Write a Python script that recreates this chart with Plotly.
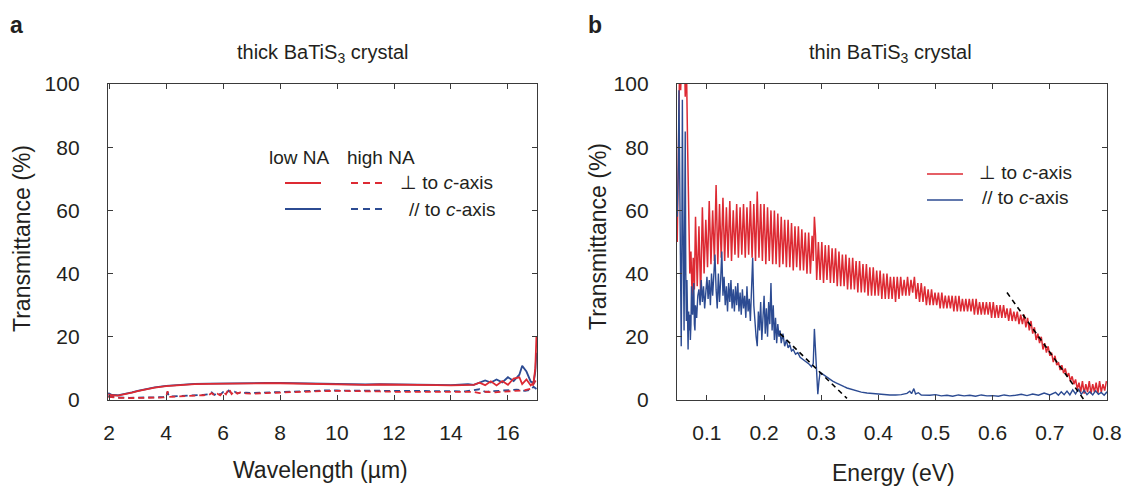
import plotly.graph_objects as go

W, H = 1128, 487

# ---------------- Panel a: thick crystal (wavelength, um) ----------------
wl_low = [1.97, 2.1, 2.3, 2.5, 2.8, 3.0, 3.3, 3.6, 4.0, 4.5,
          5.0, 5.5, 6.0, 6.5, 7.0, 7.5, 8.0, 8.5, 9.0, 9.5,
          10.0, 10.5, 11.0, 11.5, 12.0, 12.5, 13.0, 13.5, 14.0, 14.3,
          14.6, 14.8, 15.0, 15.2, 15.4, 15.6, 15.8, 16.0, 16.2, 16.4,
          16.5, 16.65, 16.8, 16.9, 16.96, 17.0]
low_perp = [1.8, 1.5, 1.4, 1.7, 2.3, 2.8, 3.4, 3.9, 4.4, 4.8,
            5.0, 5.1, 5.2, 5.2, 5.3, 5.3, 5.3, 5.2, 5.1, 5.0,
            4.9, 4.8, 4.8, 4.9, 4.9, 4.9, 4.8, 4.7, 4.6, 4.6,
            4.7, 4.8, 5.5, 4.7, 5.9, 4.6, 6.0, 4.8, 6.8, 7.2,
            5.0, 6.5, 4.6, 5.5, 10.0, 20.0]
low_par = [2.2, 1.6, 1.5, 1.8, 2.4, 2.9, 3.5, 4.0, 4.5, 4.9,
           5.1, 5.2, 5.3, 5.3, 5.3, 5.4, 5.4, 5.3, 5.2, 5.0,
           4.9, 4.8, 4.9, 5.0, 5.0, 4.9, 4.9, 4.8, 4.7, 4.9,
           5.0, 4.8, 5.6, 6.2, 5.5, 6.5, 5.6, 7.2, 6.0, 8.0,
           10.8, 9.0, 5.8, 5.5, 9.0, 15.0]

wl_high = [1.97, 2.3, 2.7, 3.0, 3.5, 3.9, 4.0, 4.05, 4.1, 4.5,
           5.0, 5.3, 5.5, 5.6, 5.7, 5.8, 5.9, 6.0, 6.1, 6.2,
           6.3, 6.4, 6.5, 6.6, 6.8, 7.0, 7.5, 8.0, 8.5, 9.0,
           9.5, 10.0, 10.5, 11.0, 11.5, 12.0, 12.5, 13.0, 13.5, 14.0,
           14.5, 14.8, 15.0, 15.2, 15.5, 16.0, 16.3, 16.6, 16.8, 16.9,
           17.0]
high_perp = [1.0, 0.7, 0.6, 0.6, 0.7, 0.8, 1.0, 2.8, 1.0, 1.1,
             1.3, 1.5, 1.6, 2.2, 1.4, 2.0, 1.5, 2.6, 1.8, 3.6,
             1.9, 2.8, 2.0, 2.4, 2.1, 2.0, 2.2, 2.4, 2.6, 2.7,
             2.8, 2.9, 2.9, 2.8, 2.7, 2.6, 2.6, 2.7, 2.6, 2.5,
             2.5, 2.6, 2.2, 2.6, 2.4, 2.7, 2.9, 3.1, 3.6, 5.0,
             6.5]
high_par = [1.2, 0.8, 0.7, 0.7, 0.8, 0.9, 1.1, 2.5, 1.1, 1.2,
            1.4, 1.6, 1.8, 2.4, 1.6, 2.3, 1.7, 2.5, 2.0, 3.0,
            2.1, 2.6, 2.2, 2.3, 2.3, 2.2, 2.4, 2.6, 2.8, 2.9,
            3.0, 3.0, 3.0, 2.9, 2.9, 2.8, 2.8, 2.9, 2.8, 2.8,
            2.7, 3.0, 3.4, 2.6, 2.8, 3.0, 3.3, 2.9, 3.2, 4.2,
            3.5]

# ---------------- Panel b: thin crystal (energy, eV) ----------------
perp_e = [0.048, 0.050, 0.052, 0.054, 0.056, 0.058, 0.060, 0.062, 0.064, 0.066, 0.068, 0.070, 0.072, 0.074, 0.076, 0.078,
          0.080, 0.083, 0.086, 0.089, 0.092, 0.095, 0.098, 0.101, 0.104, 0.107,
          0.110, 0.113, 0.116, 0.119, 0.122, 0.125, 0.128, 0.131, 0.134, 0.137,
          0.140, 0.143, 0.146, 0.149, 0.152, 0.155, 0.158, 0.161, 0.164, 0.167,
          0.170, 0.173, 0.176, 0.179, 0.182, 0.185, 0.188, 0.191, 0.194, 0.197,
          0.200, 0.203, 0.206, 0.209, 0.212, 0.215, 0.218, 0.221, 0.224, 0.227,
          0.230, 0.233, 0.236, 0.239, 0.242, 0.245, 0.248, 0.251, 0.254, 0.257,
          0.260, 0.263, 0.266, 0.269, 0.272, 0.275, 0.278, 0.281, 0.284, 0.286, 0.288, 0.290, 0.292,
          0.295, 0.298, 0.301, 0.304, 0.307, 0.310, 0.313, 0.316, 0.319, 0.322,
          0.325, 0.328, 0.331, 0.334, 0.337, 0.340, 0.343, 0.346, 0.349, 0.352,
          0.355, 0.358, 0.361, 0.364, 0.367, 0.370, 0.373, 0.376, 0.379, 0.382,
          0.385, 0.388, 0.391, 0.394, 0.397, 0.400, 0.403, 0.406, 0.409, 0.412,
          0.415, 0.418, 0.421, 0.424, 0.427, 0.430, 0.433, 0.436, 0.439, 0.442,
          0.445, 0.448, 0.451, 0.454, 0.457, 0.460, 0.463, 0.466, 0.469, 0.472,
          0.475, 0.478, 0.481, 0.484, 0.487, 0.490, 0.493, 0.496, 0.499, 0.502,
          0.505, 0.508, 0.511, 0.514, 0.517, 0.520, 0.523, 0.526, 0.529, 0.532,
          0.535, 0.538, 0.541, 0.544, 0.547, 0.550, 0.553, 0.556, 0.559, 0.562,
          0.565, 0.568, 0.571, 0.574, 0.577, 0.580, 0.583, 0.586, 0.589, 0.592,
          0.595, 0.598, 0.601, 0.604, 0.607, 0.610, 0.613, 0.616, 0.619, 0.622,
          0.625, 0.628, 0.631, 0.634, 0.637, 0.640, 0.643, 0.646, 0.649, 0.652,
          0.655, 0.658, 0.661, 0.664, 0.667, 0.670, 0.673, 0.676, 0.679, 0.682,
          0.685, 0.688, 0.691, 0.694, 0.697, 0.700, 0.703, 0.706, 0.709, 0.712,
          0.715, 0.718, 0.721, 0.724, 0.727, 0.730, 0.733, 0.736, 0.739, 0.742,
          0.745, 0.748, 0.751, 0.754, 0.757, 0.760, 0.763, 0.766, 0.769, 0.772,
          0.775, 0.778, 0.781, 0.784, 0.787, 0.790, 0.793, 0.796, 0.799]
perp_t = [50, 75, 104, 98, 110, 102, 115, 96, 108, 82, 58, 40, 47, 33, 45, 35,
          58, 36, 55, 33, 61, 40, 57, 42, 63, 43,
          60, 44, 68, 43, 62, 45, 64, 44, 61, 45,
          63, 44, 60, 46, 62, 45, 61, 46, 62, 45,
          61, 46, 63, 45, 62, 44, 66, 45, 62, 44,
          62, 43, 61, 44, 60, 43, 60, 43, 59, 42,
          58, 43, 57, 42, 57, 42, 56, 41, 55, 42,
          55, 41, 54, 41, 53, 40, 53, 40, 52, 44, 58, 52, 38,
          50, 38, 50, 37, 49, 38, 49, 37, 48, 37,
          48, 36, 47, 36, 46, 36, 46, 35, 45, 35,
          45, 35, 44, 34, 44, 34, 43, 34, 43, 33,
          42, 33, 42, 33, 41, 33, 41, 32, 40, 32,
          40, 32, 39, 32, 39, 31, 39, 32, 39, 33,
          38, 33, 39, 33, 38, 34, 39, 32, 37, 31,
          37, 31, 36, 30, 35, 30, 35, 30, 34, 30,
          34, 29, 34, 29, 33, 29, 33, 29, 33, 28,
          33, 28, 33, 28, 32, 28, 32, 28, 32, 28,
          32, 27, 32, 27, 31, 27, 31, 27, 31, 27,
          31, 26, 31, 26, 30, 26, 30, 26, 30, 26,
          29, 25, 29, 25, 28, 25, 28, 24, 27, 24,
          27, 23, 26, 22, 25, 21, 23, 19, 21, 18,
          20, 16, 18, 15, 17, 14, 15, 12, 14, 11,
          12, 9.5, 11, 8.5, 10, 7.5, 8.5, 6, 7.5, 5,
          6.5, 3.5, 5.5, 2.5, 6, 2, 5, 2.5, 6, 2,
          5, 2.5, 5.5, 2, 6, 2.5, 5, 3, 6]

par_e = [0.048, 0.050, 0.051, 0.052, 0.053, 0.054, 0.055, 0.056, 0.057, 0.058,
         0.059, 0.060, 0.061, 0.062, 0.063, 0.064, 0.065, 0.066, 0.067, 0.068,
         0.069, 0.070, 0.071, 0.072, 0.073, 0.074, 0.075, 0.076, 0.077, 0.078,
         0.079, 0.080, 0.082, 0.084, 0.086, 0.088, 0.090, 0.092, 0.094, 0.096,
         0.098, 0.100, 0.102, 0.104, 0.106, 0.108, 0.110, 0.112, 0.114, 0.116,
         0.118, 0.120, 0.122, 0.124, 0.126, 0.128, 0.130, 0.132, 0.134, 0.136,
         0.138, 0.140, 0.142, 0.144, 0.146, 0.148, 0.150, 0.152, 0.154, 0.156,
         0.158, 0.160, 0.162, 0.164, 0.166, 0.168, 0.170, 0.172, 0.174, 0.176,
         0.178, 0.180, 0.182, 0.184, 0.186, 0.188, 0.190, 0.192, 0.194, 0.196,
         0.198, 0.200, 0.202, 0.204, 0.206, 0.208, 0.210, 0.212, 0.214, 0.216,
         0.218, 0.220, 0.222, 0.224, 0.226, 0.228, 0.230, 0.233, 0.236, 0.239,
         0.242, 0.245, 0.248, 0.251, 0.255, 0.259, 0.263, 0.267, 0.271, 0.275,
         0.279, 0.283, 0.286, 0.288, 0.290, 0.292, 0.294, 0.296, 0.298, 0.300,
         0.305, 0.310, 0.315, 0.320, 0.325, 0.330, 0.335, 0.340, 0.345, 0.350,
         0.360, 0.370, 0.380, 0.390, 0.400, 0.410, 0.420, 0.430, 0.440, 0.450,
         0.455, 0.458, 0.462, 0.465, 0.470, 0.475, 0.480, 0.490, 0.500, 0.510,
         0.520, 0.530, 0.540, 0.550, 0.560, 0.570, 0.580, 0.590, 0.600, 0.610,
         0.620, 0.630, 0.640, 0.650, 0.660, 0.670, 0.680, 0.690, 0.700, 0.710,
         0.715, 0.720, 0.725, 0.730, 0.735, 0.740, 0.745, 0.750, 0.755, 0.760,
         0.765, 0.770, 0.775, 0.780, 0.785, 0.790, 0.795, 0.800]
par_t = [58, 75, 98, 70, 40, 20, 17, 45, 95, 60,
         30, 22, 55, 85, 40, 25, 38, 20, 16, 28,
         22, 27, 19, 24, 36, 29, 27, 33, 37, 24,
         22, 30, 26, 33, 35, 30, 38, 31, 36, 29,
         34, 39, 32, 38, 30, 40, 33, 42, 46, 35,
         29, 40, 31, 38, 47, 33, 39, 30, 36, 28,
         37, 31, 38, 29, 35, 28, 36, 30, 37, 28,
         34, 27, 35, 29, 33, 26, 36, 28, 32, 25,
         38, 45, 30, 24, 20, 17, 28, 22, 31, 19,
         27, 33, 21, 29, 20, 31, 24, 37, 22, 30,
         19, 26, 18, 24, 20, 22, 18, 21, 17, 19,
         16.5, 17.5, 15.5, 16, 14.5, 15, 13.5, 13, 12.5, 12,
         11.3, 10.5, 11.5, 22.5, 14, 5, 1.8, 6, 8.8, 8.5,
         7.8, 7.2, 6.6, 6.0, 5.5, 5.0, 4.6, 4.2, 3.8, 3.5,
         3.0, 2.5, 2.2, 2.0, 1.8, 1.7, 1.6, 1.6, 1.7, 2.1,
         2.8, 2.0, 3.6, 1.9, 2.3, 1.6, 1.5, 1.5, 1.7, 1.3,
         1.5, 1.2, 1.6, 1.3, 1.5, 1.2, 1.6, 1.3, 1.4, 1.2,
         1.6, 1.3, 1.5, 1.8, 1.4, 1.9, 1.5, 2.2, 1.6, 2.4,
         1.5, 2.6, 1.7, 2.8, 1.6, 3.2, 1.9, 3.5, 1.8, 3.0,
         1.7, 2.6, 1.6, 2.9, 1.8, 2.4, 1.5, 2.6]

# linear band-edge fits (black dashed)
fit_par_e = [0.228, 0.345]
fit_par_t = [21.0, 0.5]
fit_perp_e = [0.625, 0.760]
fit_perp_t = [34.0, 0.0]

x_ticks_a = [2, 4, 6, 8, 10, 12, 14, 16]
x_ticks_b = [0.1, 0.2, 0.3, 0.4, 0.5, 0.6, 0.7, 0.8]
y_ticks = [0, 20, 40, 60, 80, 100]

RED = "#dd2a33"
BLUE = "#2c4b92"
INK = "#231f20"
FONT = "Liberation Sans, Arial, sans-serif"

assert len(perp_e) == len(perp_t) and len(par_e) == len(par_t)


def px(x):
    return x / W


def py(y):
    return 1 - y / H


fig = go.Figure()

# panel a
fig.add_trace(go.Scatter(x=wl_high, y=high_par, mode="lines", line=dict(color=BLUE, width=1.8, dash="6px,4px"),
                         xaxis="x", yaxis="y", showlegend=False))
fig.add_trace(go.Scatter(x=wl_high, y=high_perp, mode="lines", line=dict(color=RED, width=1.8, dash="6px,4px"),
                         xaxis="x", yaxis="y", showlegend=False))
fig.add_trace(go.Scatter(x=wl_low, y=low_par, mode="lines", line=dict(color=BLUE, width=1.8),
                         xaxis="x", yaxis="y", showlegend=False))
fig.add_trace(go.Scatter(x=wl_low, y=low_perp, mode="lines", line=dict(color=RED, width=1.8),
                         xaxis="x", yaxis="y", showlegend=False))

# panel b
fig.add_trace(go.Scatter(x=perp_e, y=perp_t, mode="lines", line=dict(color=RED, width=1.5),
                         xaxis="x2", yaxis="y2", showlegend=False))
fig.add_trace(go.Scatter(x=par_e, y=par_t, mode="lines", line=dict(color=BLUE, width=1.4),
                         xaxis="x2", yaxis="y2", showlegend=False))
fig.add_trace(go.Scatter(x=fit_par_e, y=fit_par_t, mode="lines", line=dict(color="black", width=1.6, dash="5px,4px"),
                         xaxis="x2", yaxis="y2", showlegend=False))
fig.add_trace(go.Scatter(x=fit_perp_e, y=fit_perp_t, mode="lines", line=dict(color="black", width=1.6, dash="5px,4px"),
                         xaxis="x2", yaxis="y2", showlegend=False))

axis_common = dict(showline=True, linecolor="#3a3a3a", linewidth=1.4, mirror="ticks",
                   ticks="inside", ticklen=5, tickwidth=1.2, tickcolor="#3a3a3a",
                   showgrid=False, zeroline=False, automargin=False,
                   tickfont=dict(family=FONT, size=21, color=INK))

ydom = [py(400), py(84)]
fig.update_layout(
    width=W, height=H, margin=dict(l=0, r=0, t=0, b=0),
    paper_bgcolor="white", plot_bgcolor="white", template="none",
    xaxis=dict(domain=[px(108), px(537)], range=[1.96, 17.02], tickvals=x_ticks_a,
               ticklabelstandoff=14, anchor="y", **axis_common),
    yaxis=dict(domain=ydom, range=[0, 100], tickvals=y_ticks, ticklabelstandoff=23,
               anchor="x", **axis_common),
    xaxis2=dict(domain=[px(677), px(1107)], range=[0.0476, 0.8], tickvals=x_ticks_b,
                ticktext=[str(v) for v in x_ticks_b],
                ticklabelstandoff=14, anchor="y2", **axis_common),
    yaxis2=dict(domain=ydom, range=[0, 100], tickvals=y_ticks, ticklabelstandoff=23,
                anchor="x2", **axis_common),
)

ann = []


def text(x, y, s, size, xanchor="center", angle=0):
    ann.append(dict(x=px(x), y=py(y), xref="paper", yref="paper", text=s, showarrow=False,
                    xanchor=xanchor, yanchor="middle", textangle=angle,
                    font=dict(family=FONT, size=size, color=INK)))


text(16, 25, "<b>a</b>", 23)
text(595, 25, "<b>b</b>", 23)
text(323, 53, "thick BaTiS<sub>3</sub> crystal", 20)
text(890, 53, "thin BaTiS<sub>3</sub> crystal", 20)
text(320, 470, "Wavelength (µm)", 23)
text(893, 473, "Energy (eV)", 23)
text(22, 239, "Transmittance (%)", 23, angle=-90)
text(598, 237, "Transmittance (%)", 23, angle=-90)

# legend panel a
text(299, 157, "low NA", 19)
text(381, 157, "high NA", 19)
text(398, 182, "⊥ to <i>c</i>-axis", 19, xanchor="left")
text(407, 209, "// to <i>c</i>-axis", 19, xanchor="left")
# legend panel b
text(977, 172, "⊥ to <i>c</i>-axis", 19, xanchor="left")
text(980, 198, "// to <i>c</i>-axis", 19, xanchor="left")

shapes = []


def seg(x0, x1, y, color, dash="solid", width=1.8):
    shapes.append(dict(type="line", xref="paper", yref="paper", x0=px(x0), x1=px(x1), y0=py(y), y1=py(y),
                       line=dict(color=color, width=width, dash=dash)))


seg(285, 321, 183, RED)
seg(351, 386, 183, RED, "7px,5px")
seg(285, 321, 209, BLUE)
seg(351, 386, 209, BLUE, "7px,5px")
seg(927, 963, 174, RED, width=1.5)
seg(927, 963, 200, BLUE, width=1.5)

fig.update_layout(annotations=ann, shapes=shapes)
fig.write_html("out.html")
